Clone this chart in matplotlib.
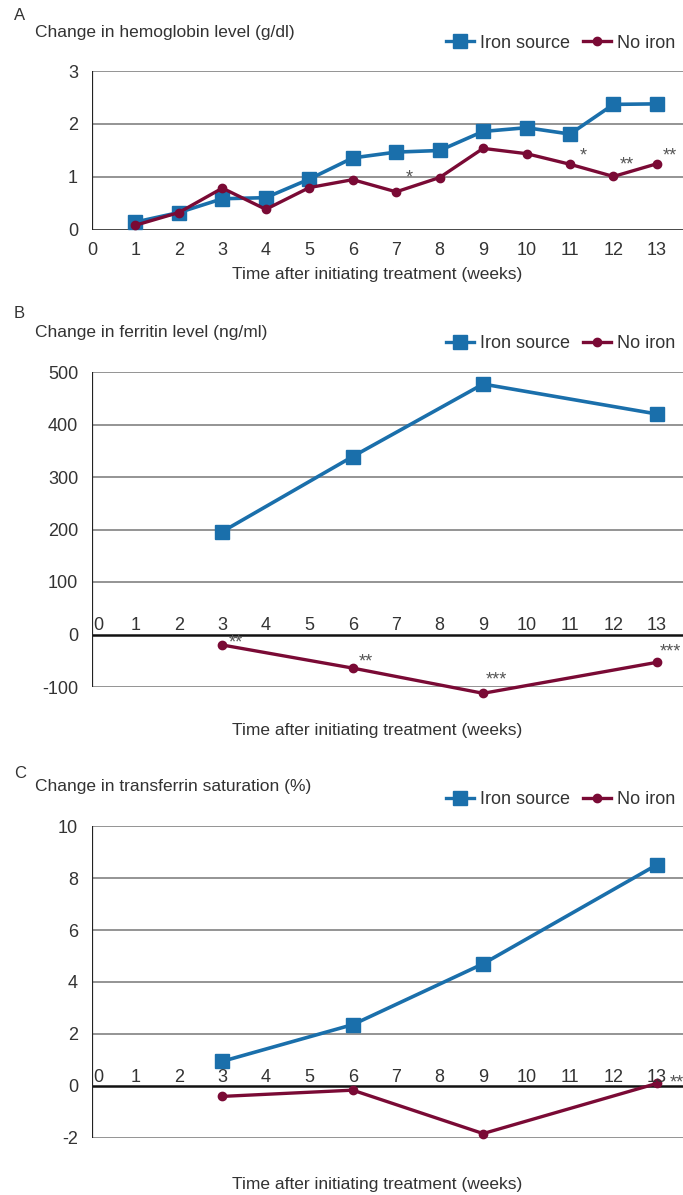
import matplotlib
matplotlib.use("Agg")
import matplotlib.pyplot as plt
from matplotlib.lines import Line2D

# ---- data ----
weeks_all = list(range(0, 14))

hb_weeks = [1, 2, 3, 4, 5, 6, 7, 8, 9, 10, 11, 12, 13]
hb_iron = [0.15, 0.33, 0.59, 0.61, 0.96, 1.36, 1.47, 1.50, 1.86, 1.93, 1.81, 2.37, 2.38]
hb_noiron = [0.09, 0.33, 0.79, 0.39, 0.80, 0.95, 0.72, 0.99, 1.54, 1.44, 1.24, 1.01, 1.25]
hb_sig = [(7, 0.98, "*"), (11, 1.40, "*"), (12, 1.23, "**"), (13, 1.40, "**")]

fer_weeks = [3, 6, 9, 13]
fer_iron = [196, 339, 477, 420]
fer_noiron = [-20, -64, -112, -53]
fer_sig = [(3, -16, "**"), (6, -52, "**"), (9, -86, "***"), (13, -33, "***")]

tsat_weeks = [3, 6, 9, 13]
tsat_iron = [0.95, 2.36, 4.70, 8.51]
tsat_noiron = [-0.40, -0.16, -1.83, 0.10]
tsat_sig = [(13, 0.1, "**")]

BLUE = "#1a6fab"
RED = "#7a0a35"
TXT = "#333333"
REG = ["Liberation Sans", "DejaVu Sans"]

W, H = 683, 1195
fig = plt.figure(figsize=(W / 100, H / 100), dpi=100)


def px_axes(left, top, right, bottom):
    return fig.add_axes([left / W, 1 - bottom / H, (right - left) / W, (bottom - top) / H])


def panel(letter, title, rect, xs, iron, noiron, yticks, ylim, sig, labels_inside,
          letter_y, title_y, legend_y, xlabel_y, last_sig_left=False):
    ax = px_axes(*rect)
    ax.set_xlim(0, 13.6)
    ax.set_ylim(*ylim)
    for s in ax.spines.values():
        s.set_visible(False)
    ax.set_xticks([])
    ax.set_yticks(yticks)
    ax.set_yticklabels([str(t) for t in yticks], family=REG, fontsize=13, color=TXT)
    ax.tick_params(axis="y", length=0, pad=10)
    for t in yticks:
        if t == 0:
            ax.axhline(0, color="#111111", lw=1.8, zorder=1)
        else:
            ax.axhline(t, color="#777777", lw=1.1, zorder=1)
    ax.axvline(0, color="#222222", lw=1.6, zorder=1)

    ax.plot(xs, iron, color=BLUE, lw=2.6, marker="s", ms=10, zorder=3, clip_on=False)
    ax.plot(xs, noiron, color=RED, lw=2.4, marker="o", ms=6, zorder=3, clip_on=False)

    for i, (x, y, s) in enumerate(sig):
        if last_sig_left and i == len(sig) - 1:
            ax.text(x + 0.3, y, s, ha="left", va="center", fontsize=13, color="#555555",
                    family=REG, zorder=4, clip_on=False)
        else:
            ax.text(x + 0.3, y, s, ha="center", va="center", fontsize=13, color="#555555",
                    family=REG, zorder=4, clip_on=False)

    # week labels
    for w in weeks_all:
        if labels_inside:
            xw = 0.14 if w == 0 else w
            ax.text(xw, 0, str(w), ha="center", va="bottom", fontsize=13, color=TXT,
                    family=REG)
        else:
            ax.annotate(str(w), (w, 0), xytext=(0, -9), textcoords="offset points",
                        ha="center", va="top", fontsize=13, color=TXT, family=REG)

    fig.text(14 / W, 1 - letter_y / H, letter, fontsize=12, color=TXT, family=REG, va="center")
    fig.text(35 / W, 1 - title_y / H, title, fontsize=12.5, color=TXT, family=REG, va="center")
    fig.text(377 / W, 1 - xlabel_y / H, "Time after initiating treatment (weeks)", fontsize=12.5,
             color=TXT, family=REG, ha="center", va="center")

    handles = [Line2D([], [], color=BLUE, lw=2.4, marker="s", ms=10),
               Line2D([], [], color=RED, lw=2.4, marker="o", ms=6)]
    fig.legend(handles, ["Iron source", "No iron"], loc="center right",
               bbox_to_anchor=(682 / W, 1 - legend_y / H), ncol=2, frameon=False,
               handlelength=1.55, handletextpad=0.3, columnspacing=0.75,
               prop={"family": REG, "size": 13}, labelcolor=TXT, borderaxespad=0)
    return ax


axA = panel("A", "Change in hemoglobin level (g/dl)", (92, 71, 683, 230), hb_weeks, hb_iron,
            hb_noiron, [0, 1, 2, 3], (0, 3), hb_sig, False, 15, 33, 43, 274)

axB = panel("B", "Change in ferritin level (ng/ml)", (92, 372, 683, 687), fer_weeks, fer_iron,
            fer_noiron, [-100, 0, 100, 200, 300, 400, 500], (-100, 500), fer_sig, True,
            314, 333, 344, 730)

axC = panel("C", "Change in transferrin saturation (%)", (92, 826, 683, 1138), tsat_weeks,
            tsat_iron, tsat_noiron, [-2, 0, 2, 4, 6, 8, 10], (-2, 10), tsat_sig, True,
            773, 786, 800, 1185, last_sig_left=True)

fig.savefig("out.png", dpi=100, facecolor="white")
